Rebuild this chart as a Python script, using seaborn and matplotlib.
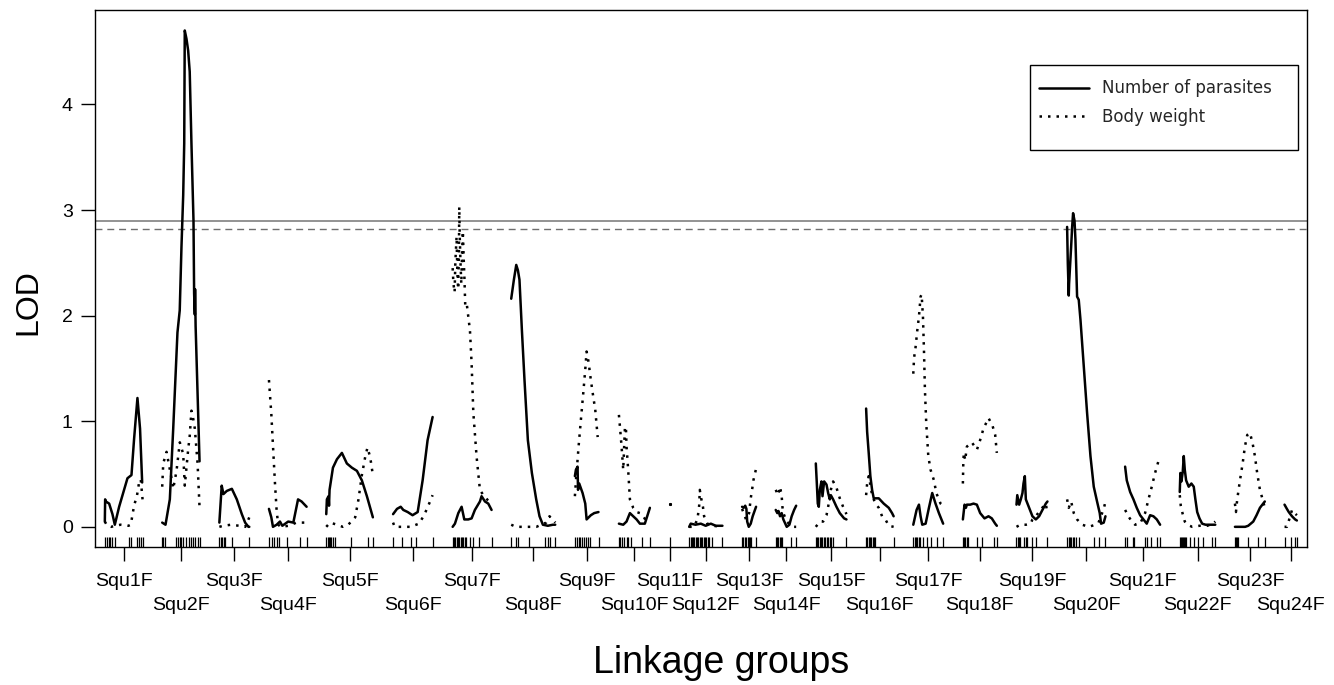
import numpy as np
import pandas as pd
import matplotlib
matplotlib.use("Agg")
import matplotlib.pyplot as plt
import seaborn as sns
from matplotlib.lines import Line2D
from matplotlib.patches import Rectangle

# ---------------- data ----------------
chromosomes = [f"Squ{i}F" for i in range(1, 25)]

# marker positions (cM within each linkage group)
markers_cM = [
    [0, 2.5, 4.7, 7.2, 9.7, 12.7, 30.9, 33.4, 41.5, 43.6, 46.1, 48],
    [0, 1, 3, 17, 20, 22, 24.5, 27, 30.5, 34.7, 37.2, 39.8, 42.3, 45.3, 47.7],
    [0, 1.7, 3.4, 5.5, 7.6, 16.1, 38.1],
    [0, 3.4, 6.4, 9.8, 13.1, 22.5, 39.4, 47.9],
    [0, 1.7, 2.9, 4.7, 6.4, 8, 10.5, 31.8, 53.7, 60],
    [0, 11, 22.2, 29.7, 50.8],
    [0, 1.7, 3.4, 5.1, 6.7, 8.5, 10.2, 11.8, 13.6, 15.2, 16.9, 22, 26.3, 33.9, 49.5],
    [0, 5.5, 8.5, 22, 43.6, 46.6, 49.5, 56],
    [0, 2.5, 4.7, 6.9, 8.5, 11, 13.6, 16.1, 18.7, 31],
    [0, 2, 4.2, 6.7, 9.7, 11.8, 16, 30, 39.4],
    [0],
    [0, 1.7, 3.3, 5.1, 6.7, 8.3, 10.2, 11.8, 13.5, 14.7, 16.9, 18.5, 20.3, 22, 23.6, 25.8, 28.7, 42.3],
    [0, 1.8, 3.4, 5.1, 6.9, 8.5, 10.2, 11.4, 17.8],
    [0, 1.8, 3.4, 5.1, 6.4, 7.6, 19.6, 26],
    [0, 1.7, 3.4, 5.1, 6.7, 8.5, 10.2, 11.4, 14.4, 16.1, 17.8, 19.4, 22, 39],
    [0, 1.7, 3.3, 5.1, 6.7, 8.3, 10.2, 11.8, 35],
    [0, 1.7, 3.3, 5.1, 6.7, 8.3, 12.7, 17.8, 22.9, 30.5, 38.1],
    [0, 1.7, 3.3, 5.1, 7.1, 17.8, 24.1, 39.8, 43.2],
    [0, 1.8, 3.4, 5.1, 9.8, 11.9, 14, 19.6, 25.4, 39.4],
    [0, 1.8, 3.4, 5.1, 6.9, 8.5, 10.7, 14.9, 33.9, 40.3, 48.8],
    [0, 2.2, 9.8, 11.4, 25.4, 27.6, 32.6, 40.3, 44.5],
    [0, 1.3, 2.5, 3.8, 5.1, 6.4, 8.4, 12.7, 17.8, 22.9, 29.6, 41, 45.2],
    [0, 1.3, 2.8, 4.2, 16.9, 29.6, 38.1],
    [0, 8.5, 12.7, 15.7],
]

# LOD profiles, (cM, LOD) per linkage group
parasites = [
    [(0,0.05),(0.4,0.26),(1.3,0.24),(5.5,0.22),(9.7,0.12),(12.7,0.02),(18.2,0.19),(28.8,0.46),(33.9,0.49),(37.2,0.83),(41.5,1.22),(44.8,0.93),(47.5,0.42)],
    [(0,0.04),(4.2,0.02),(9.7,0.26),(14,0.93),(19.4,1.84),(22.3,2.05),(24.5,2.65),(26.7,3.14),(28,3.63),(28.7,4.7),(30.9,4.62),(33,4.51),(35,4.31),(37.2,3.63),(39.8,2.9),(40.6,2.21),(41.5,2.01),(41.8,2.25),(42.5,1.9),(47.5,0.62)],
    [(0,0.04),(3,0.39),(5.2,0.31),(9.5,0.34),(15.9,0.36),(22.2,0.26),(28.6,0.12),(32.8,0.04),(37,0.0),(38.1,0.0)],
    [(0,0.17),(3,0.09),(5.1,0.0),(9.8,0.02),(14,0.05),(17,0.01),(24.5,0.05),(31,0.04),(37,0.26),(41.5,0.24),(47.9,0.19)],
    [(0,0.12),(0.8,0.26),(2.9,0.29),(3.5,0.2),(4.2,0.35),(8.5,0.56),(13.6,0.64),(19.9,0.7),(26.2,0.6),(32.6,0.56),(39,0.53),(45.3,0.44),(51.7,0.29),(59.3,0.09)],
    [(0,0.12),(5,0.17),(9.7,0.19),(13,0.16),(18.6,0.14),(24.8,0.11),(31.3,0.14),(37.6,0.44),(43.9,0.82),(50.3,1.04)],
    [(0,0.0),(2.9,0.03),(7.2,0.13),(11.4,0.19),(14.8,0.07),(19.9,0.07),(24.1,0.08),(28.3,0.16),(34.7,0.24),(36.8,0.29),(41.1,0.24),(45.3,0.22),(49.5,0.16)],
    [(0,2.16),(3.4,2.34),(6.4,2.48),(8.5,2.43),(10.5,2.34),(13.6,1.86),(16.9,1.39),(21.2,0.82),(26.3,0.51),(31.8,0.26),(36,0.1),(40.3,0.02),(46.6,0.01),(53,0.02),(56,0.02)],
    [(0,0.48),(1.3,0.54),(3.4,0.57),(4,0.35),(5.5,0.41),(9.8,0.32),(13.2,0.22),(14.9,0.07),(20.3,0.11),(24.6,0.13),(30,0.14)],
    [(0,0.03),(5.5,0.02),(9.7,0.05),(14,0.13),(18.2,0.1),(22.5,0.07),(26.7,0.03),(33,0.03),(36,0.1),(39.4,0.18)],
    [(0,0.22)],
    [(0,0.0),(2,0.03),(8,0.02),(14.8,0.03),(21,0.01),(27.5,0.03),(33.9,0.01),(42.3,0.01)],
    [(0,0.19),(2,0.18),(4,0.2),(5.5,0.17),(6.5,0.05),(8.5,0.0),(11,0.03),(13.5,0.1),(17.8,0.19)],
    [(0,0.16),(2,0.13),(3.5,0.15),(5.5,0.1),(7.6,0.13),(9.7,0.07),(14,0.0),(17.4,0.02),(20.3,0.1),(23.4,0.16),(26,0.2)],
    [(0,0.6),(1.3,0.41),(2.5,0.22),(3.8,0.19),(5.1,0.35),(7.2,0.43),(8.5,0.29),(10.6,0.43),(13.6,0.4),(15.7,0.32),(17.8,0.26),(19.1,0.3),(22,0.26),(26.3,0.19),(30.5,0.13),(36,0.08),(39,0.07)],
    [(0,1.12),(1.3,0.9),(3.3,0.7),(5.4,0.48),(7.6,0.35),(9.7,0.27),(16.1,0.27),(22.4,0.22),(28.8,0.18),(33,0.13),(35,0.1)],
    [(0,0.02),(4.2,0.16),(7.2,0.21),(9.3,0.1),(11.4,0.02),(15.7,0.03),(19.9,0.18),(24.1,0.32),(28.3,0.22),(32.6,0.13),(38,0.03)],
    [(0,0.07),(2.1,0.21),(3.8,0.18),(5.1,0.21),(9.3,0.21),(13.5,0.22),(17.8,0.21),(22,0.13),(27.5,0.08),(32.6,0.1),(36.8,0.08),(41.1,0.03),(43.2,0.01)],
    [(0,0.21),(1,0.3),(3.4,0.21),(5.5,0.26),(7.6,0.32),(8.9,0.41),(10.6,0.48),(11.9,0.26),(16.1,0.18),(20.3,0.1),(24.6,0.07),(28.8,0.1),(33,0.16),(37.3,0.22),(39.4,0.24)],
    [(0,2.84),(0.9,2.49),(2.1,2.19),(2.5,2.3),(5.1,2.65),(6.4,2.84),(7.6,2.97),(9.4,2.9),(10.6,2.72),(12.7,2.18),(14.8,2.15),(17,1.96),(21.2,1.52),(25.4,1.08),(29.7,0.67),(33.9,0.38),(38.1,0.24),(41.5,0.13),(43.2,0.03),(46.6,0.04),(48.8,0.1)],
    [(0,0.57),(2.1,0.44),(6.4,0.33),(10.6,0.26),(14.8,0.18),(19.1,0.11),(23.3,0.07),(27.5,0.03),(31.8,0.11),(36,0.1),(40.3,0.07),(44.5,0.02)],
    [(0,0.33),(0.8,0.51),(2.1,0.43),(3.8,0.52),(5.1,0.67),(6.4,0.54),(8.1,0.44),(11.4,0.38),(14.8,0.41),(17.8,0.38),(19.9,0.26),(22.2,0.14),(25.1,0.08),(28.5,0.03),(32.8,0.02),(45.2,0.02)],
    [(0,0.0),(6,0.0),(13,0.0),(16.9,0.01),(23.3,0.05),(27.5,0.11),(31.8,0.18),(38,0.24)],
    [(0,0.21),(3,0.17),(5.4,0.14),(9.5,0.1),(13.5,0.07),(15.7,0.06)],
]

body_weight = [
    [(0,0.05),(3,0.01),(8,0.0),(14,0.01),(20,0.02),(30,0.01),(33,0.02),(37.2,0.2),(41,0.3),(43.6,0.42),(45.7,0.45),(48,0.26)],
    [(0,0.38),(1.3,0.6),(5.5,0.71),(11.8,0.46),(14,0.36),(18.2,0.53),(22.4,0.8),(26.7,0.69),(28.7,0.39),(33,0.73),(35,0.86),(37.2,1.1),(39.3,1.03),(41.5,0.93),(45,0.6),(47.7,0.15)],
    [(0,0.0),(5,0.01),(15,0.02),(25,0.01),(33,0.0),(38.1,0.09)],
    [(0,1.39),(3,1.07),(5.1,0.77),(7.6,0.42),(9.8,0.15),(11.8,0.02),(15,0.0),(25,0.01),(35,0.04),(47.9,0.04)],
    [(0,0.0),(5,0.04),(13.6,0.02),(21,0.0),(28,0.02),(36.8,0.09),(41,0.26),(45.3,0.49),(49.5,0.66),(52.4,0.75),(55.9,0.66),(59.3,0.49)],
    [(0,0.04),(2,0.0),(10,0.0),(22,0.0),(33,0.03),(39.5,0.11),(45.9,0.22),(50.3,0.3)],
    [(0,2.45),(1,2.3),(2.5,2.22),(3.4,2.5),(5,2.75),(6,2.4),(7,2.25),(8,2.6),(8.4,3.03),(9,2.75),(10,2.5),(11,2.3),(12,2.6),(13,2.8),(14,2.55),(15,2.35),(16,2.1),(17.8,2.12),(22,1.86),(24.1,1.55),(26.3,1.08),(30.5,0.66),(34.7,0.35),(39,0.3),(45,0.25),(49.5,0.22)],
    [(0,0.02),(6,0.0),(20,0.0),(32,0.0),(44.5,0.04),(48.7,0.1),(53,0.07),(56,0.04)],
    [(0,0.29),(1.3,0.43),(4.7,0.76),(7.6,1.01),(10.7,1.27),(13.2,1.49),(14.9,1.66),(17.4,1.56),(20.3,1.39),(23.4,1.23),(25.9,1.11),(29,0.85)],
    [(0,1.06),(1.3,0.95),(3.4,0.76),(5.5,0.54),(7.6,0.93),(8.9,0.95),(9.7,0.76),(11.8,0.54),(14,0.26),(18.2,0.18),(22.5,0.14),(26.7,0.13),(31,0.1),(35.2,0.05),(39.4,0.04)],
    [(0,0.22)],
    [(0,0.0),(6,0.0),(10.5,0.07),(12.7,0.2),(13.5,0.35),(15,0.28),(17.5,0.19),(19,0.1),(23,0.03),(30,0.01),(42.3,0.0)],
    [(0,0.17),(2.5,0.12),(5,0.07),(8.9,0.13),(11,0.27),(13.1,0.37),(14.4,0.44),(17.8,0.55)],
    [(0,0.35),(3,0.3),(5.5,0.38),(7.6,0.29),(8.5,0.19),(9.7,0.13),(14,0.05),(18.3,0.02),(22,0.0),(26,0.0)],
    [(0,0.0),(5.1,0.05),(9.3,0.05),(13.6,0.11),(15.7,0.19),(19.1,0.35),(22,0.43),(26.3,0.37),(30.5,0.27),(34.7,0.19),(39,0.12)],
    [(0,0.3),(1.3,0.41),(3.3,0.48),(5.4,0.4),(7.6,0.3),(11.8,0.22),(16.1,0.18),(20.3,0.1),(24.6,0.07),(28.8,0.01),(35,0.0)],
    [(0,1.45),(1,1.6),(2.9,1.7),(5.1,1.86),(7.2,1.99),(9.3,2.18),(10.6,2.2),(12.3,1.99),(13.6,1.67),(14.8,1.3),(16.5,0.98),(19.1,0.67),(22,0.54),(26.3,0.44),(29.3,0.32),(34.7,0.22),(38,0.2)],
    [(0,0.41),(0.6,0.63),(1.3,0.7),(2.9,0.63),(5.1,0.76),(11.4,0.8),(17.8,0.73),(20.7,0.79),(26.2,0.93),(32.6,1.03),(37.6,0.96),(41.1,0.87),(43.2,0.7)],
    [(0,0.0),(5,0.02),(12,0.02),(18,0.03),(20.3,0.07),(24.6,0.1),(30.5,0.16),(37.3,0.22),(39.4,0.12)],
    [(0,0.26),(2.1,0.18),(5.1,0.24),(8.5,0.13),(12.7,0.07),(19.1,0.02),(27.5,0.0),(36,0.02),(40,0.04),(44.5,0.13),(46.6,0.17),(48.8,0.24)],
    [(0,0.16),(4.2,0.1),(8.5,0.05),(12.7,0.02),(19.1,0.03),(25.4,0.13),(29.7,0.26),(33.9,0.38),(38.1,0.51),(42.3,0.62)],
    [(0,0.3),(1.3,0.2),(3.8,0.12),(6.4,0.05),(9.5,0.02),(15.9,0.0),(25,0.01),(35,0.01),(42,0.03),(45.2,0.05)],
    [(0,0.22),(1.3,0.14),(2.9,0.26),(6.4,0.44),(9.8,0.6),(12.7,0.76),(15.7,0.87),(19.1,0.89),(22.5,0.79),(25.4,0.67),(28.3,0.51),(31.8,0.35),(35.2,0.26),(38,0.18)],
    [(0,0.0),(3,0.0),(7.2,0.1),(9.5,0.16),(11.4,0.14),(15.7,0.11)],
]

threshold_parasites = 2.90
threshold_weight = 2.82
trait_names = ["Number of parasites", "Body weight"]
y_ticks = [0, 1, 2, 3, 4]

# ---------------- layout of linkage groups ----------------
GAP = 25.0
lengths = np.array([max(m) for m in markers_cM], dtype=float)
offsets = np.concatenate([[0.0], np.cumsum(lengths[:-1] + GAP)])
mids = offsets + lengths / 2

rows = []
for ci, name in enumerate(chromosomes):
    for trait, series in zip(trait_names, (parasites, body_weight)):
        for cm, lod in series[ci]:
            rows.append(dict(chrom=name, trait=trait, pos=offsets[ci] + cm, lod=lod))
df = pd.DataFrame(rows)
npts = df.groupby(["chrom", "trait"])["pos"].transform("size")
df_lines = df[npts > 1]
df_single = df[npts == 1]

rug_x = np.concatenate([offsets[i] + np.array(m) for i, m in enumerate(markers_cM)])

# ---------------- plotting ----------------
sns.set_style("ticks")
plt.rcParams["font.family"] = ["Liberation Sans", "DejaVu Sans"]

W, H = 1334, 685
fig = plt.figure(figsize=(W / 100, H / 100), dpi=100)
L, R, T, B = 95, 1306.7, 10, 547
ax = fig.add_axes([L / W, 1 - B / H, (R - L) / W, (B - T) / H])

sns.lineplot(data=df_lines, x="pos", y="lod", units="chrom", estimator=None,
             style="trait", style_order=trait_names,
             dashes={"Number of parasites": "", "Body weight": (1, 2.4)},
             color="black", linewidth=1.8, legend=False, ax=ax)
sns.scatterplot(data=df_single, x="pos", y="lod", color="black", s=5,
                linewidth=0, legend=False, ax=ax)

ax.axhline(threshold_parasites, color="#8a8a8a", lw=1.3, zorder=1)
ax.axhline(threshold_weight, color="#6e6e6e", lw=1.0, ls=(0, (5, 3.5)), zorder=1)

ax.vlines(rug_x, 0, 0.019, transform=ax.get_xaxis_transform(),
          colors="black", lw=0.9)

ax.set_xlim(-GAP / 2, offsets[-1] + lengths[-1] + GAP / 2)
ax.set_ylim(-0.191, 4.894)
ax.set_yticks(y_ticks)
ax.set_yticklabels([str(v) for v in y_ticks])
ax.set_xticks(mids)
ax.set_xticklabels(chromosomes)
ax.set_xlabel("")
ax.set_ylabel("")
ax.tick_params(axis="both", direction="out", length=10, width=1, color="black",
               labelsize=14, labelcolor="black")
ax.tick_params(axis="y", pad=6)
for i, t in enumerate(ax.xaxis.get_major_ticks()):
    t.set_pad(8.5 if i % 2 == 0 else 26)

for s in ax.spines.values():
    s.set_visible(True)
    s.set_color("black")
    s.set_linewidth(1.0)

fig.text(28 / W, 1 - 302 / H, "LOD", rotation=90, ha="center", va="center",
         fontsize=23, color="black")
fig.text(721 / W, 1 - 673 / H, "Linkage groups", ha="center", va="baseline",
         fontsize=27, color="black")

# legend: frame box drawn as a rectangle in axes fraction, entries via legend
def ax_frac(px, py):
    return (px - L) / (R - L), (B - py) / (B - T)

x0, y1 = ax_frac(1030, 65)
x1, y0 = ax_frac(1298, 150)
ax.add_patch(Rectangle((x0, y0), x1 - x0, y1 - y0, transform=ax.transAxes,
                       facecolor="white", edgecolor="black", lw=1.0, zorder=4))

handles = [Line2D([], [], color="black", lw=1.8),
           Line2D([], [], color="black", lw=1.8, ls=(0, (1, 2.4)))]
lx, ly = ax_frac(1031, 71)
leg = ax.legend(handles, trait_names, loc="upper left",
                bbox_to_anchor=(lx, ly), borderaxespad=0, frameon=False,
                handlelength=3.0, handletextpad=0.75,
                borderpad=0.5, labelspacing=0.62,
                prop={"family": "DejaVu Sans", "size": 12})
leg.set_zorder(5)

fig.savefig("out.png", dpi=100, facecolor="white")
